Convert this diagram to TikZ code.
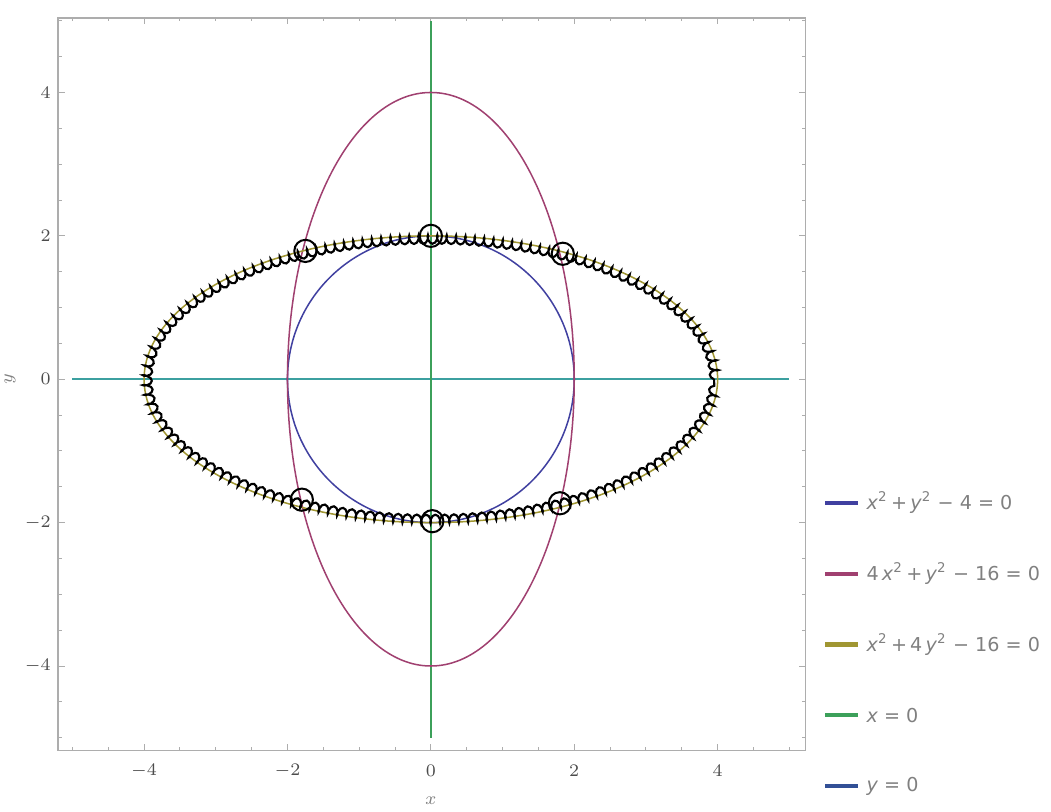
\documentclass[tikz,border=0pt]{standalone}
\usepackage{fontspec}
\newfontfamily\legendfont{DejaVu Sans}
\usepackage{xcolor}
\definecolor{colCirc}{RGB}{64,64,160}
\definecolor{colEllA}{RGB}{160,64,112}
\definecolor{colEllB}{RGB}{160,150,50}
\definecolor{colXax}{RGB}{60,160,90}
\definecolor{colYax}{RGB}{50,80,150}
\definecolor{colYline}{RGB}{60,160,160}
\colorlet{frameGray}{black!32}
\colorlet{tickGray}{black!70}
\colorlet{legendGray}{black!50}
\usepackage{tikz}
\usetikzlibrary{decorations.pathmorphing, calc}
\newcommand{\lplus}{\,+\,}
\tikzset{
	plotframe/.style={draw=frameGray, line width=0.5pt},
	tickmark/.style={draw=frameGray, line width=0.4pt},
	curveline/.style={line width=0.6pt},
	ticklabel/.style={font=\fontsize{7.4}{9}\selectfont, text=tickGray, inner sep=1pt},
	legendtext/.style={font=\legendfont\fontsize{7.6}{9}\selectfont, text=legendGray, anchor=west, inner sep=0pt},
	legendkey/.style={line width=1.6pt},
	marker/.style={draw=black, line width=0.8pt, circle, minimum size=0.31cm, inner sep=0pt},
	squiggle/.style={draw=black, line width=0.85pt, decorate, decoration={coil, amplitude=1.7pt, segment length=3.7pt}},
}

\begin{document}
\begin{tikzpicture}
	\useasboundingbox (-6.01,-6.03) rectangle (8.65,5.29);

	% Frame and ticks
	\draw[plotframe] (-5.2,-5.18) rectangle (5.23,5.04);
	\foreach \t in {-5,-4.5,...,5.1} {
		\draw[tickmark] (\t,-5.18) -- ++(0,0.05);
		\draw[tickmark] (\t,5.04) -- ++(0,-0.05);
		\draw[tickmark] (-5.2,\t) -- ++(0.05,0);
		\draw[tickmark] (5.23,\t) -- ++(-0.05,0);
	}
	\foreach \t in {-4,-2,0,2,4} {
		\draw[tickmark] (\t,-5.18) -- ++(0,0.09);
		\draw[tickmark] (\t,5.04) -- ++(0,-0.09);
		\draw[tickmark] (-5.2,\t) -- ++(0.09,0);
		\draw[tickmark] (5.23,\t) -- ++(-0.09,0);
		\node[ticklabel] (xl\t) at (\t,-5.46) {$\t$};
		\node[ticklabel, anchor=east] (yl\t) at (-5.26,\t) {$\t$};
	}
	\node[ticklabel, text=legendGray] (xlab) at (0,-5.88) {$x$};
	\node[ticklabel, text=legendGray, rotate=90] (ylab) at (-5.87,0) {$y$};

	% Curves
	\draw[colYline, curveline] (-5,0) -- (5,0);
	\draw[colXax, curveline] (0,-5) -- (0,5);
	\draw[colCirc, curveline] (0,0) circle (2);
	\draw[colEllA, curveline] (0,0) ellipse (2 and 4);
	\draw[colEllB, curveline] (0,0) ellipse (4 and 2);
	\draw[squiggle] (0,0) ellipse (3.95 and 1.95);

	% Intersection markers
	\node[marker] (m1) at (-1.75,1.79) {};
	\node[marker] (m2) at (0,2.0) {};
	\node[marker] (m3) at (1.84,1.75) {};
	\node[marker] (m4) at (-1.8,-1.68) {};
	\node[marker] (m5) at (0.02,-1.98) {};
	\node[marker] (m6) at (1.8,-1.73) {};

	% Legend
	\foreach \col/\txt [count=\i] in {
		colCirc/{\textit{x}\textsuperscript{2}\lplus\textit{y}\textsuperscript{2} − 4 = 0},
		colEllA/{4\,\textit{x}\textsuperscript{2}\lplus\textit{y}\textsuperscript{2} − 16 = 0},
		colEllB/{\textit{x}\textsuperscript{2}\lplus4\,\textit{y}\textsuperscript{2} − 16 = 0},
		colXax/{\textit{x} = 0},
		colYax/{\textit{y} = 0}} {
		\coordinate (k\i) at (5.5,-1.72-0.99*\i+0.99);
		\draw[legendkey, \col] (k\i) -- ++(0.46,0);
		\node[legendtext] (t\i) at ($(k\i)+(0.57,0)$) {\txt};
	}
\end{tikzpicture}
\end{document}
